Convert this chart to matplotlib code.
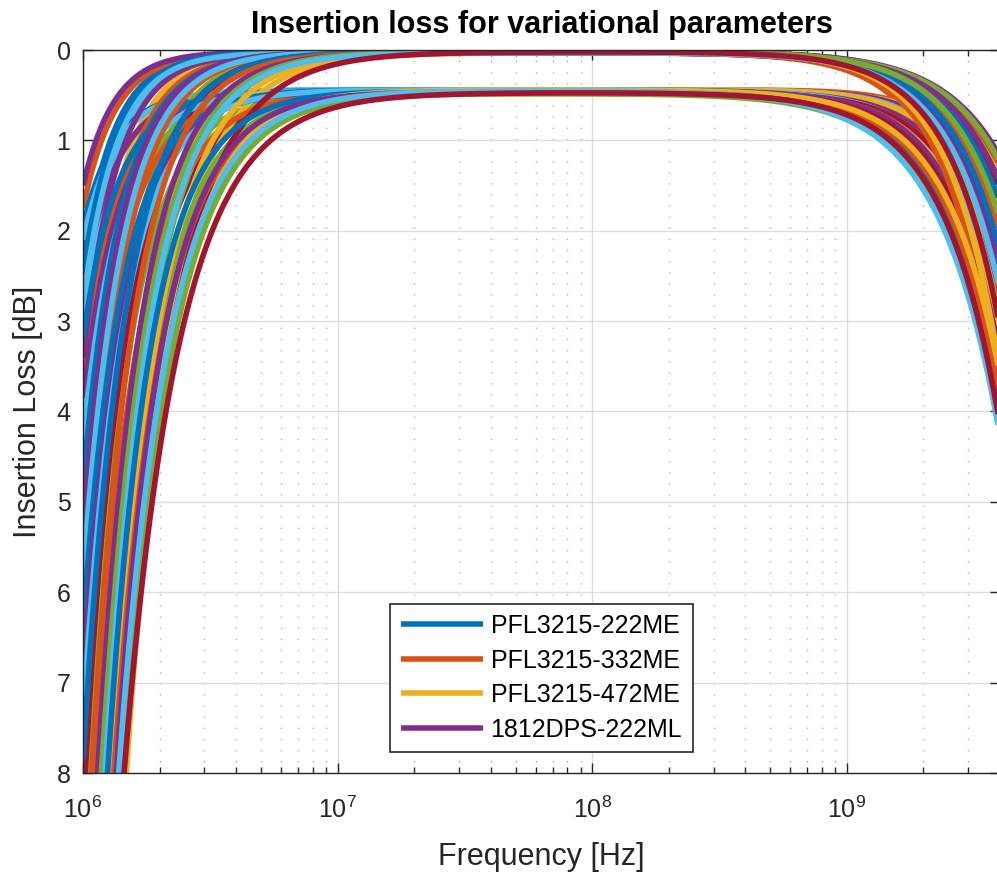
import numpy as np
import matplotlib
matplotlib.use("Agg")
import matplotlib.pyplot as plt
from matplotlib.ticker import LogLocator, NullFormatter, FixedLocator

plt.rcParams["font.family"] = ["Liberation Sans", "DejaVu Sans"]
plt.rcParams["mathtext.default"] = "regular"

parts = ["PFL3215-222ME", "PFL3215-332ME", "PFL3215-472ME", "1812DPS-222ML"]
colors = ["#0072BD", "#D95319", "#EDB120", "#7E2F8E", "#77AC30", "#4DBEEE", "#A2142F"]

# one entry per swept curve (56 runs, plotted in this order)
# passband loss [dB]
pass_loss = [
    0.02, 0.03, 0.02, 0.02, 0.03, 0.02, 0.03,
    0.46, 0.44, 0.47, 0.45, 0.48, 0.44, 0.47,
    0.02, 0.03, 0.02, 0.03, 0.02, 0.03, 0.02,
    0.45, 0.47, 0.44, 0.46, 0.48, 0.45, 0.47,
    0.03, 0.02, 0.03, 0.02, 0.03, 0.02, 0.03,
    0.44, 0.46, 0.48, 0.45, 0.47, 0.44, 0.46,
    0.02, 0.03, 0.02, 0.03, 0.02, 0.03, 0.02,
    0.45, 0.47, 0.44, 0.46, 0.48, 0.45, 0.47,
]
# loss at 1 MHz [dB] (values above 8 are below the plot edge)
loss_1mhz = [
    2.30, 1.75, 4.10, 1.50, 6.10, 3.00, 8.86,
    1.95, 3.60, 10.6, 2.60, 5.00, 2.10, 7.10,
    2.45, 4.55, 12.6, 3.40, 7.60, 2.80, 10.2,
    3.20, 5.55, 13.3, 3.85, 9.30, 4.30, 11.4,
    4.80, 6.60, 15.2, 5.30, 13.4, 5.80, 8.44,
    6.35, 10.0, 15.8, 6.90, 14.1, 7.35, 16.3,
    7.85, 9.78, 14.6, 11.1, 11.9, 12.9, 16.7,
    13.6, 14.75, 19.8, 16.0, 17.3, 15.8, 16.3,
]
# low-side roll-off steepness
low_slope = [
    3.4, 3.4, 3.1, 3.5, 2.9, 3.2, 2.6,
    3.4, 3.1, 2.6, 3.2, 3.0, 3.3, 2.8,
    3.3, 3.0, 2.5, 3.2, 2.7, 3.3, 2.8,
    3.1, 2.9, 2.3, 3.0, 2.7, 3.0, 2.5,
    2.9, 2.8, 2.2, 2.9, 2.4, 2.8, 2.7,
    2.8, 2.5, 2.3, 2.7, 2.4, 2.7, 2.2,
    2.6, 2.6, 2.3, 2.5, 2.4, 2.4, 2.1,
    2.5, 2.3, 2.4, 2.4, 2.2, 2.2, 2.0,
]
# frequency where the high-side loss has risen 1 dB [GHz]
f_high_ghz = [
    3.48, 2.10, 3.40, 3.70, 2.62, 3.19, 2.92,
    3.15, 3.20, 3.25, 3.10, 3.05, 2.95, 3.00,
    2.47, 3.55, 3.05, 2.68, 2.29, 2.80, 3.26,
    2.80, 2.85, 2.90, 2.75, 2.70, 2.60, 2.65,
    3.12, 2.86, 2.42, 2.57, 3.62, 2.33, 2.20,
    2.40, 2.50, 2.55, 2.45, 2.30, 2.10, 2.35,
    2.74, 2.15, 2.25, 3.33, 2.98, 2.52, 2.38,
    2.15, 2.20, 2.25, 2.00, 1.95, 1.90, 2.05,
]
# high-side roll-off steepness
high_slope = [
    2.00, 2.20, 1.95, 1.90, 2.10, 2.00, 2.05,
    2.85, 2.90, 3.00, 2.80, 2.70, 2.60, 2.65,
    2.15, 1.90, 2.00, 2.15, 2.15, 2.05, 2.05,
    2.45, 2.50, 2.55, 2.40, 2.30, 2.30, 2.35,
    2.05, 2.10, 2.20, 2.15, 1.95, 2.20, 2.20,
    2.10, 2.25, 2.20, 2.20, 2.10, 1.90, 2.15,
    2.10, 2.25, 2.20, 2.00, 2.10, 2.10, 2.15,
    2.00, 2.05, 2.00, 1.90, 1.85, 1.80, 1.95,
]

freq = np.logspace(6, np.log10(4e9), 600)

fig = plt.figure(figsize=(9.97, 8.72), dpi=100)
ax = fig.add_axes([83 / 997, 99 / 872, 917 / 997, 723 / 872])

lines = []
for i in range(len(pass_loss)):
    il = pass_loss[i]
    loss = (il
            + (loss_1mhz[i] - il) * (1e6 / freq) ** low_slope[i]
            + (freq / (f_high_ghz[i] * 1e9)) ** high_slope[i])
    ln, = ax.plot(freq, loss, color=colors[i % 7], lw=4, solid_capstyle="butt")
    lines.append(ln)

ax.set_xscale("log")
ax.set_xlim(1e6, 4e9)
ax.set_ylim(8, 0)
ax.set_yticks(range(0, 9))
ax.xaxis.set_major_locator(FixedLocator([1e6, 1e7, 1e8, 1e9]))
ax.xaxis.set_minor_locator(LogLocator(base=10, subs=np.arange(2, 10), numticks=20))
ax.xaxis.set_minor_formatter(NullFormatter())

ax.set_axisbelow(True)
ax.grid(True, which="major", color="#dcdcdc", lw=1, ls="-")
ax.grid(True, which="minor", axis="x", color="#b0b0b0", lw=1, ls=(0, (1, 7)))

ax.tick_params(which="both", direction="in", top=True, right=True,
               colors="#262626", labelsize=18, width=1)
ax.tick_params(which="major", length=7)
ax.tick_params(which="minor", length=4)
ax.tick_params(axis="x", which="major", pad=17)
ax.tick_params(axis="y", which="major", pad=9)
for sp in ax.spines.values():
    sp.set_color("#262626")
    sp.set_linewidth(1)

ax.set_title("Insertion loss for variational parameters", fontsize=22,
             fontweight="bold", pad=12)
ax.set_xlabel("Frequency [Hz]", fontsize=22, color="#262626", labelpad=14)
ax.set_ylabel("Insertion Loss [dB]", fontsize=22, color="#262626", labelpad=10)

leg = ax.legend(lines[:4], parts, loc="center", bbox_to_anchor=(0.4998, 0.1314),
                fontsize=18, handlelength=3.3, handletextpad=0.3,
                labelspacing=0.42, borderpad=0.42, borderaxespad=0,
                fancybox=False, framealpha=1)
leg.get_frame().set_edgecolor("#262626")
leg.get_frame().set_linewidth(1.2)

fig.savefig("out.png", dpi=100)
